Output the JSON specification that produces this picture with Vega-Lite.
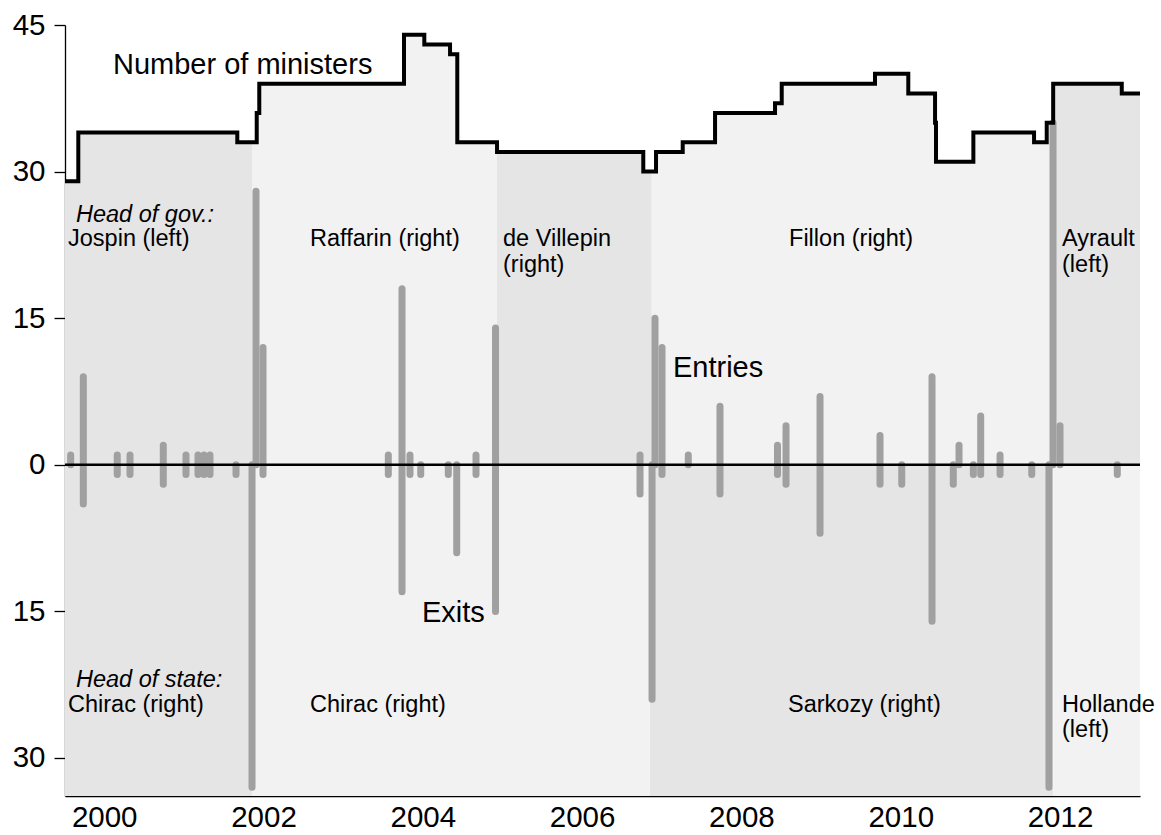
{
  "$schema": "https://vega.github.io/schema/vega-lite/v6.json",
  "width": 1075,
  "height": 771,
  "autosize": {"type": "none"},
  "padding": {"left": 65, "top": 25, "right": 21, "bottom": 39},
  "config": {
    "font": "Liberation Sans",
    "view": {"stroke": null},
    "axis": {"grid": false, "title": null, "labelColor": "black", "labelFontSize": 29.5, "labelFont": "Liberation Sans", "domainColor": "black", "tickColor": "black"}
  },
  "datasets": {
    "ministers": [
      {"x": 1999.508, "n": 29, "gov": "Jospin"},
      {"x": 1999.675, "n": 34, "gov": "Jospin"},
      {"x": 2001.671, "n": 33, "gov": "Jospin"},
      {"x": 2001.856, "n": 33, "gov": "Jospin"},
      {"x": 2001.856, "n": 33, "gov": "Raffarin"},
      {"x": 2001.915, "n": 36, "gov": "Raffarin"},
      {"x": 2001.947, "n": 39, "gov": "Raffarin"},
      {"x": 2003.764, "n": 44, "gov": "Raffarin"},
      {"x": 2004.019, "n": 43, "gov": "Raffarin"},
      {"x": 2004.342, "n": 42, "gov": "Raffarin"},
      {"x": 2004.433, "n": 33, "gov": "Raffarin"},
      {"x": 2004.932, "n": 32, "gov": "Raffarin"},
      {"x": 2004.932, "n": 32, "gov": "de Villepin"},
      {"x": 2006.768, "n": 30, "gov": "de Villepin"},
      {"x": 2006.874, "n": 30, "gov": "de Villepin"},
      {"x": 2006.874, "n": 30, "gov": "Fillon"},
      {"x": 2006.928, "n": 32, "gov": "Fillon"},
      {"x": 2007.263, "n": 33, "gov": "Fillon"},
      {"x": 2007.669, "n": 36, "gov": "Fillon"},
      {"x": 2008.422, "n": 37, "gov": "Fillon"},
      {"x": 2008.506, "n": 39, "gov": "Fillon"},
      {"x": 2009.677, "n": 40, "gov": "Fillon"},
      {"x": 2010.095, "n": 38, "gov": "Fillon"},
      {"x": 2010.431, "n": 35, "gov": "Fillon"},
      {"x": 2010.443, "n": 31, "gov": "Fillon"},
      {"x": 2010.912, "n": 34, "gov": "Fillon"},
      {"x": 2011.674, "n": 33, "gov": "Fillon"},
      {"x": 2011.833, "n": 35, "gov": "Fillon"},
      {"x": 2011.914, "n": 39, "gov": "Fillon"},
      {"x": 2011.914, "n": 39, "gov": "Ayrault"},
      {"x": 2012.775, "n": 38, "gov": "Ayrault"},
      {"x": 2013.004, "n": 38, "gov": "Ayrault"}
    ],
    "states": [
      {"start": 1999.508, "end": 2001.856, "term": "Chirac I"},
      {"start": 2001.856, "end": 2006.853, "term": "Chirac II"},
      {"start": 2006.853, "end": 2011.914, "term": "Sarkozy"},
      {"start": 2011.914, "end": 2013.004, "term": "Hollande"}
    ],
    "changes": [
      {"x": 1999.579, "up": 1, "down": 0},
      {"x": 1999.738, "up": 9, "down": -4},
      {"x": 2000.164, "up": 1, "down": -1},
      {"x": 2000.324, "up": 1, "down": -1},
      {"x": 2000.742, "up": 2, "down": -2},
      {"x": 2001.027, "up": 1, "down": -1},
      {"x": 2001.178, "up": 1, "down": -1},
      {"x": 2001.253, "up": 1, "down": -1},
      {"x": 2001.328, "up": 1, "down": -1},
      {"x": 2001.655, "up": 0, "down": -1},
      {"x": 2001.856, "up": 0, "down": -33},
      {"x": 2001.906, "up": 28, "down": 0},
      {"x": 2001.994, "up": 12, "down": -1},
      {"x": 2003.567, "up": 1, "down": -1},
      {"x": 2003.739, "up": 18, "down": -13},
      {"x": 2003.839, "up": 1, "down": -1},
      {"x": 2003.974, "up": 0, "down": -1},
      {"x": 2004.320, "up": 0, "down": -1},
      {"x": 2004.426, "up": 0, "down": -9},
      {"x": 2004.668, "up": 1, "down": -1},
      {"x": 2004.913, "up": 14, "down": -15},
      {"x": 2006.727, "up": 1, "down": -3},
      {"x": 2006.878, "up": 0, "down": -24},
      {"x": 2006.915, "up": 15, "down": 0},
      {"x": 2007.003, "up": 12, "down": -1},
      {"x": 2007.333, "up": 1, "down": 0},
      {"x": 2007.731, "up": 6, "down": -3},
      {"x": 2008.453, "up": 2, "down": -1},
      {"x": 2008.560, "up": 4, "down": -2},
      {"x": 2008.987, "up": 7, "down": -7},
      {"x": 2009.740, "up": 3, "down": -2},
      {"x": 2010.013, "up": 0, "down": -2},
      {"x": 2010.393, "up": 9, "down": -16},
      {"x": 2010.660, "up": 0, "down": -2},
      {"x": 2010.732, "up": 2, "down": 0},
      {"x": 2010.912, "up": 0, "down": -1},
      {"x": 2011.004, "up": 5, "down": -1},
      {"x": 2011.247, "up": 1, "down": -1},
      {"x": 2011.645, "up": 0, "down": -1},
      {"x": 2011.861, "up": 0, "down": -33},
      {"x": 2011.912, "up": 35, "down": 0},
      {"x": 2012.000, "up": 4, "down": 0},
      {"x": 2012.719, "up": 0, "down": -1}
    ],
    "bigText": [
      {"x": 2000.110, "y": 40.0, "label": "Number of ministers"},
      {"x": 2007.141, "y": 8.95, "label": "Entries"},
      {"x": 2003.990, "y": -16.05, "label": "Exits"}
    ],
    "headText": [
      {"x": 1999.646, "y": 24.87, "label": "Head of gov.:"},
      {"x": 1999.646, "y": -22.7, "label": "Head of state:"}
    ],
    "nameText": [
      {"x": 1999.546, "y": 22.35, "label": "Jospin (left)"},
      {"x": 2002.584, "y": 22.35, "label": "Raffarin (right)"},
      {"x": 2005.007, "y": 22.35, "label": "de Villepin"},
      {"x": 2005.007, "y": 19.75, "label": "(right)"},
      {"x": 2008.598, "y": 22.35, "label": "Fillon (right)"},
      {"x": 2012.025, "y": 22.35, "label": "Ayrault"},
      {"x": 2012.025, "y": 19.75, "label": "(left)"},
      {"x": 1999.546, "y": -25.3, "label": "Chirac (right)"},
      {"x": 2002.584, "y": -25.3, "label": "Chirac (right)"},
      {"x": 2008.585, "y": -25.3, "label": "Sarkozy (right)"},
      {"x": 2012.025, "y": -25.3, "label": "Hollande"},
      {"x": 2012.025, "y": -27.9, "label": "(left)"}
    ]
  },
  "resolve": {"scale": {"color": "independent"}},
  "layer": [
    {
      "data": {"name": "states"},
      "mark": {"type": "rect"},
      "encoding": {
        "x": {"field": "start", "type": "quantitative",
              "scale": {"domain": [1999.508, 2013.004], "nice": false, "zero": false},
              "axis": {"values": [2000, 2002, 2004, 2006, 2008, 2010, 2012], "format": "d", "ticks": false, "domainWidth": 1.5, "labelPadding": 7}},
        "x2": {"field": "end"},
        "y": {"datum": 0, "type": "quantitative",
              "scale": {"domain": [-33.89, 45], "nice": false},
              "axis": {"values": [-30, -15, 0, 15, 30, 45], "labelExpr": "abs(datum.value)", "tickSize": 11, "tickWidth": 1.3, "domainWidth": 1.3, "labelPadding": 9}},
        "y2": {"datum": -33.89},
        "color": {"field": "term", "type": "nominal", "legend": null,
                  "scale": {"domain": ["Chirac I", "Chirac II", "Sarkozy", "Hollande"], "range": ["#e5e5e5", "#f2f2f2", "#e5e5e5", "#f2f2f2"]}}
      }
    },
    {
      "data": {"name": "ministers"},
      "mark": {"type": "area", "interpolate": "step-after"},
      "encoding": {
        "x": {"field": "x", "type": "quantitative"},
        "y": {"field": "n", "type": "quantitative"},
        "y2": {"datum": 0},
        "color": {"field": "gov", "type": "nominal", "legend": null,
                  "scale": {"domain": ["Jospin", "Raffarin", "de Villepin", "Fillon", "Ayrault"], "range": ["#e5e5e5", "#f2f2f2", "#e5e5e5", "#f2f2f2", "#e5e5e5"]}}
      }
    },
    {
      "data": {"name": "changes"},
      "mark": {"type": "rule", "color": "#a0a0a0", "strokeWidth": 7, "strokeCap": "round"},
      "encoding": {
        "x": {"field": "x", "type": "quantitative"},
        "y": {"field": "up", "type": "quantitative"},
        "y2": {"field": "down"}
      }
    },
    {
      "data": {"values": [{}]},
      "mark": {"type": "rule", "color": "black", "strokeWidth": 2.5},
      "encoding": {"y": {"datum": 0}}
    },
    {
      "data": {"name": "ministers"},
      "mark": {"type": "line", "interpolate": "step-after", "color": "black", "strokeWidth": 4},
      "encoding": {
        "x": {"field": "x", "type": "quantitative"},
        "y": {"field": "n", "type": "quantitative"}
      }
    },
    {
      "data": {"name": "bigText"},
      "mark": {"type": "text", "align": "left", "baseline": "alphabetic", "fontSize": 29, "color": "black"},
      "encoding": {
        "x": {"field": "x", "type": "quantitative"},
        "y": {"field": "y", "type": "quantitative"},
        "text": {"field": "label"}
      }
    },
    {
      "data": {"name": "headText"},
      "mark": {"type": "text", "align": "left", "baseline": "alphabetic", "fontSize": 23.5, "fontStyle": "italic", "color": "black"},
      "encoding": {
        "x": {"field": "x", "type": "quantitative"},
        "y": {"field": "y", "type": "quantitative"},
        "text": {"field": "label"}
      }
    },
    {
      "data": {"name": "nameText"},
      "mark": {"type": "text", "align": "left", "baseline": "alphabetic", "fontSize": 23.5, "color": "black"},
      "encoding": {
        "x": {"field": "x", "type": "quantitative"},
        "y": {"field": "y", "type": "quantitative"},
        "text": {"field": "label"}
      }
    }
  ]
}
